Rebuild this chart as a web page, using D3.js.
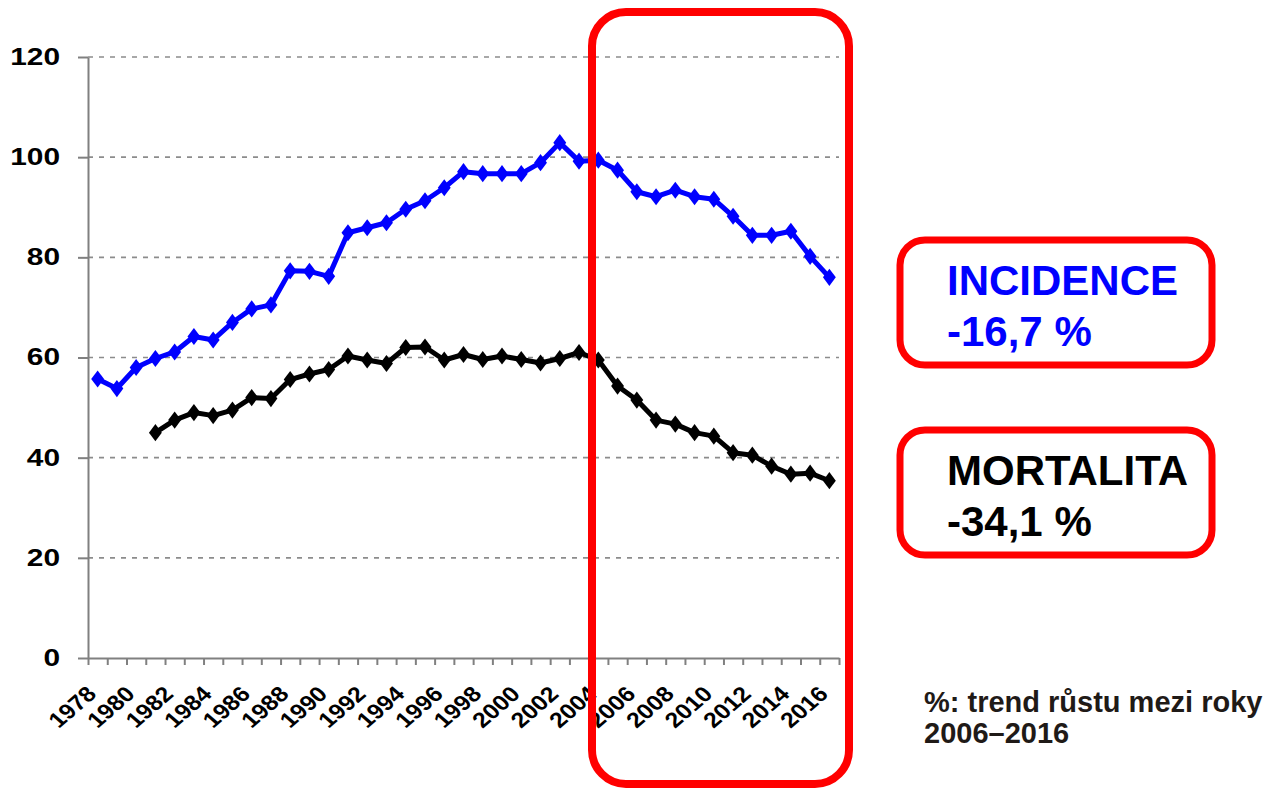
<!DOCTYPE html>
<html>
<head>
<meta charset="utf-8">
<script src="https://cdn.jsdelivr.net/npm/d3@7"></script>
<style>
  body { margin: 0; background: #fff; }
  svg { display: block; font-family: "Liberation Sans", Arial, sans-serif; }
</style>
</head>
<body>
<svg id="chart" width="1279" height="791"></svg>
<script>
// years on the category axis
var years = d3.range(1978, 2017);

// incidence per 100 000 (blue)
var incidence = [55.7, 53.8, 58.0, 59.8, 61.1, 64.2, 63.5, 67.0, 69.7, 70.5,
                 77.3, 77.2, 76.2, 84.9, 85.9, 86.9, 89.6, 91.3, 93.9, 97.1,
                 96.7, 96.7, 96.7, 98.9, 102.9, 99.2, 99.4, 97.4, 93.1, 92.1,
                 93.4, 92.1, 91.6, 88.2, 84.4, 84.4, 85.2, 80.2, 76.0];

// mortality per 100 000 (black), no data before 1981
var mortality = [null, null, null, 45.0, 47.5, 49.0, 48.4, 49.5, 52.0, 51.8,
                 55.6, 56.7, 57.6, 60.3, 59.5, 58.8, 62.0, 62.1, 59.5, 60.6,
                 59.6, 60.3, 59.6, 58.9, 59.8, 61.0, 59.5, 54.3, 51.5, 47.5,
                 46.7, 45.0, 44.3, 41.0, 40.5, 38.3, 36.7, 36.9, 35.4];

var yTicks = [0, 20, 40, 60, 80, 100, 120];
var xLabelYears = years.filter(function (d) { return d % 2 === 0; });

var boxes = [
  {title: "INCIDENCE", value: "-16,7 %", color: "#0000ff"},
  {title: "MORTALITA", value: "-34,1 %", color: "#000000"}
];
var noteLines = ["%: trend růstu mezi roky", "2006–2016"];

var svg = d3.select("#chart");
var stretch = 1.3; // chart text is wider than normal in the picture

var plotLeft = 88, plotRight = 839, plotTop = 57, plotBottom = 658;

var x = d3.scaleBand().domain(years).range([plotLeft, plotRight]);
var xi = d3.scaleLinear().domain([0, years.length]).range([plotLeft, plotRight]);
var y = d3.scaleLinear().domain([0, 120]).range([plotBottom, plotTop]);
function cx(d) { return x(d) + x.bandwidth() / 2; }

// gridlines
svg.append("g")
  .selectAll("line")
  .data(yTicks.filter(function (d) { return d > 0; }))
  .enter().append("line")
    .attr("x1", plotLeft).attr("x2", plotRight)
    .attr("y1", function (d) { return y(d); })
    .attr("y2", function (d) { return y(d); })
    .attr("stroke", "#8c8c8c")
    .attr("stroke-width", 1.6)
    .attr("stroke-dasharray", "5,6");

// y axis
var yAxis = svg.append("g")
    .attr("transform", "translate(" + plotLeft + ",0)")
    .call(d3.axisLeft(y).tickValues(yTicks).tickSize(10).tickSizeOuter(0).tickPadding(0));
yAxis.selectAll("path, line").attr("stroke", "#808080").attr("stroke-width", 2);
yAxis.selectAll("text")
    .attr("x", -28 / stretch)
    .attr("transform", "scale(" + stretch + ",1)")
    .attr("font-size", 23)
    .attr("font-weight", "bold")
    .attr("fill", "#000")
    .attr("font-family", "Liberation Sans, Arial, sans-serif");

// x axis, ticks at category boundaries
var xAxis = svg.append("g")
    .attr("transform", "translate(0," + plotBottom + ")")
    .call(d3.axisBottom(xi).tickValues(d3.range(years.length + 1)).tickFormat("").tickSize(7).tickSizeOuter(0));
xAxis.selectAll("path, line").attr("stroke", "#808080").attr("stroke-width", 2);

// x labels, rotated
svg.append("g")
  .selectAll("text")
  .data(xLabelYears)
  .enter().append("text")
    .attr("transform", function (d) {
      return "translate(" + (cx(d) - 6) + ",690) scale(1.15,1) rotate(-45)";
    })
    .attr("text-anchor", "end")
    .attr("dy", "0.35em")
    .attr("font-size", 21.5)
    .attr("font-weight", "bold")
    .text(function (d) { return d; });

// series
var series = [
  {values: incidence, color: "#0000ff"},
  {values: mortality, color: "#000000"}
];

var line = d3.line()
    .defined(function (d) { return d.v != null; })
    .x(function (d) { return cx(d.year); })
    .y(function (d) { return y(d.v); });

var diamond = d3.symbol().type(d3.symbolDiamond).size(85);

series.forEach(function (s) {
  var pts = years.map(function (yr, i) { return {year: yr, v: s.values[i]}; });
  svg.append("path")
      .datum(pts)
      .attr("fill", "none")
      .attr("stroke", s.color)
      .attr("stroke-width", 5)
      .attr("stroke-linejoin", "round")
      .attr("d", line);
  svg.append("g")
    .selectAll("path")
    .data(pts.filter(function (d) { return d.v != null; }))
    .enter().append("path")
      .attr("d", diamond)
      .attr("transform", function (d) {
        return "translate(" + cx(d.year) + "," + y(d.v) + ") scale(" + stretch + ",1)";
      })
      .attr("fill", s.color);
});

// big red highlight frame over 2004-2016
svg.append("rect")
    .attr("x", 592).attr("y", 12)
    .attr("width", 257).attr("height", 772)
    .attr("rx", 34).attr("ry", 34)
    .attr("fill", "none")
    .attr("stroke", "#ff0000")
    .attr("stroke-width", 8);

// trend boxes
var boxTop = [240, 430];
boxes.forEach(function (b, i) {
  svg.append("rect")
      .attr("x", 900).attr("y", boxTop[i])
      .attr("width", 312).attr("height", 125)
      .attr("rx", 25).attr("ry", 25)
      .attr("fill", "#fff")
      .attr("stroke", "#ff0000")
      .attr("stroke-width", 7);
  svg.append("text")
      .attr("x", 947).attr("y", boxTop[i] + 55)
      .attr("font-size", 42).attr("font-weight", "bold")
      .attr("fill", b.color)
      .text(b.title);
  svg.append("text")
      .attr("x", 947).attr("y", boxTop[i] + 106)
      .attr("font-size", 42).attr("font-weight", "bold")
      .attr("fill", b.color)
      .text(b.value);
});

// note
svg.append("g")
  .selectAll("text")
  .data(noteLines)
  .enter().append("text")
    .attr("x", 924)
    .attr("y", function (d, i) { return 712 + i * 31; })
    .attr("font-size", 29)
    .attr("font-weight", "bold")
    .attr("fill", "#1f1a17")
    .text(function (d) { return d; });
</script>
</body>
</html>
